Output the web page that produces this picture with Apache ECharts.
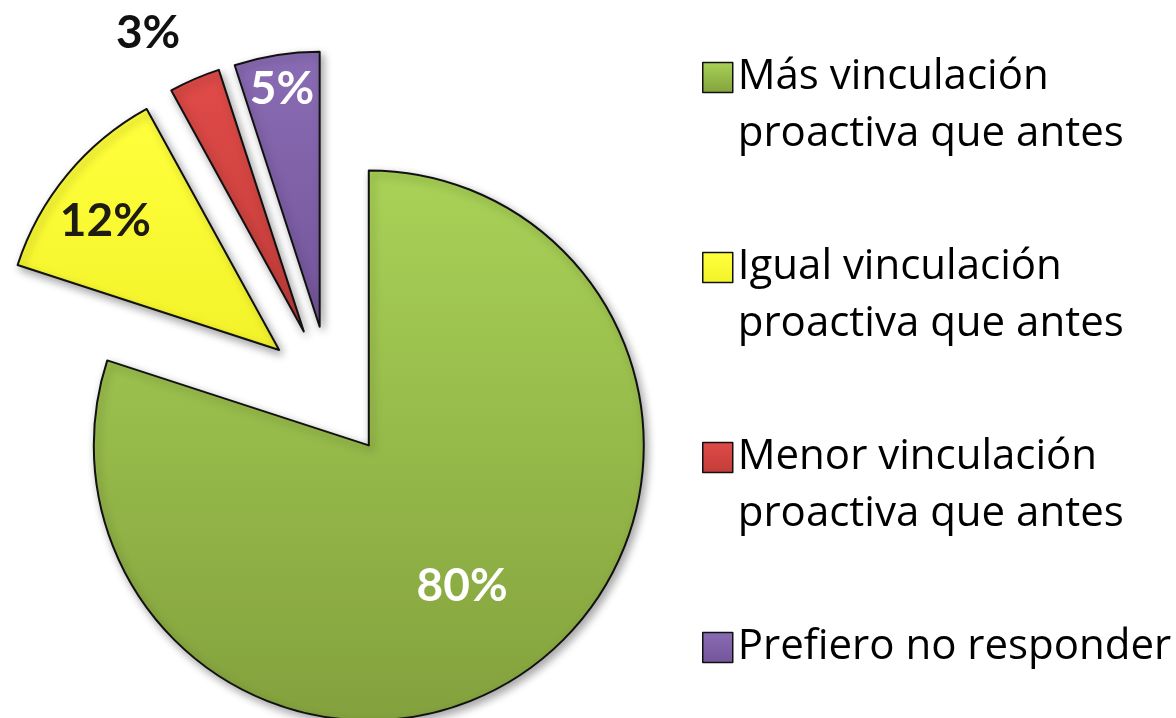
<!DOCTYPE html>
<html>
<head>
<meta charset="utf-8">
<script src="https://cdn.jsdelivr.net/npm/echarts@6/dist/echarts.min.js"></script>
<style>
  html, body { margin: 0; padding: 0; background: #ffffff; }
  #chart { width: 1176px; height: 718px; }
</style>
</head>
<body>
<div id="chart"></div>
<script>
// ---- data ----
const categories = [
  'Más vinculación\nproactiva que antes',
  'Igual vinculación\nproactiva que antes',
  'Menor vinculación\nproactiva que antes',
  'Prefiero no responder'
];
const values = [80, 12, 3, 5];

// ---- styles ----
const colorTop = ['#a9d257', '#ffff3c', '#e04b48', '#8a6cb4'];
const colorBottom = ['#83a13d', '#f3f32b', '#c23c39', '#74559b'];
const labelColors = ['#ffffff', '#1e1b10', '#111111', '#ffffff'];
const labelRadius = [166, 213, 333, 238];
const labelAngleShift = [-1.8, 2.4, 3.5, 0];

const CENTER = [330, 392];
const RADIUS = 275;
const EXPLODE = 66;

function grad(i) {
  return new echarts.graphic.LinearGradient(0, 0, 0, 1, [
    { offset: 0, color: colorTop[i] },
    { offset: 1, color: colorBottom[i] }
  ]);
}

const mainData = categories.map((name, i) => ({
  name: name,
  value: values[i],
  selected: true,
  itemStyle: { color: grad(i) }
}));

const series = [{
  type: 'pie',
  center: CENTER,
  radius: [0, RADIUS],
  startAngle: 90,
  clockwise: true,
  selectedMode: 'multiple',
  selectedOffset: EXPLODE,
  avoidLabelOverlap: false,
  animation: false,
  silent: true,
  itemStyle: {
    borderColor: '#111111',
    borderWidth: 2,
    shadowBlur: 8,
    shadowOffsetX: 3,
    shadowOffsetY: 4,
    shadowColor: 'rgba(0,0,0,0.35)'
  },
  label: { show: false },
  labelLine: { show: false },
  emphasis: { disabled: true },
  data: mainData
}];

// label carrier series: one per slice, transparent, sharing the same angles
categories.forEach((_, k) => {
  series.push({
    type: 'pie',
    center: CENTER,
    radius: [labelRadius[k] - 1, labelRadius[k] + 1],
    startAngle: 90 + labelAngleShift[k],
    clockwise: true,
    selectedMode: 'multiple',
    selectedOffset: EXPLODE,
    avoidLabelOverlap: false,
    animation: false,
    silent: true,
    itemStyle: { color: 'rgba(0,0,0,0)', borderWidth: 0 },
    labelLine: { show: false },
    emphasis: { disabled: true },
    label: { show: false },
    data: categories.map((name, i) => ({
      name: name,
      value: values[i],
      selected: true,
      label: {
        show: i === k,
        position: 'inside',
        rotate: 0,
        formatter: (p) => p.value + '%',
        color: labelColors[i],
        fontFamily: 'Lato',
        fontWeight: 'bold',
        fontSize: 46
      }
    }))
  });
});

const chart = echarts.init(document.getElementById('chart'), null, { renderer: 'canvas' });
chart.setOption({
  backgroundColor: '#ffffff',
  animation: false,
  legend: {
    orient: 'vertical',
    left: 702,
    top: -8,
    height: 800,
    padding: 0,
    itemWidth: 30,
    itemHeight: 30,
    itemGap: 19,
    selectedMode: false,
    icon: 'rect',
    itemStyle: { borderColor: '#111111', borderWidth: 1.5 },
    formatter: (name) => name.indexOf('\n') >= 0 ? '\n' + name : '\n' + name + '\n',
    textStyle: {
      fontFamily: 'Open Sans',
      fontSize: 42,
      color: '#000000',
      lineHeight: 57
    },
    data: categories.map((name, i) => ({
      name: name,
      itemStyle: { color: grad(i) }
    }))
  },
  series: series
});
</script>
</body>
</html>
